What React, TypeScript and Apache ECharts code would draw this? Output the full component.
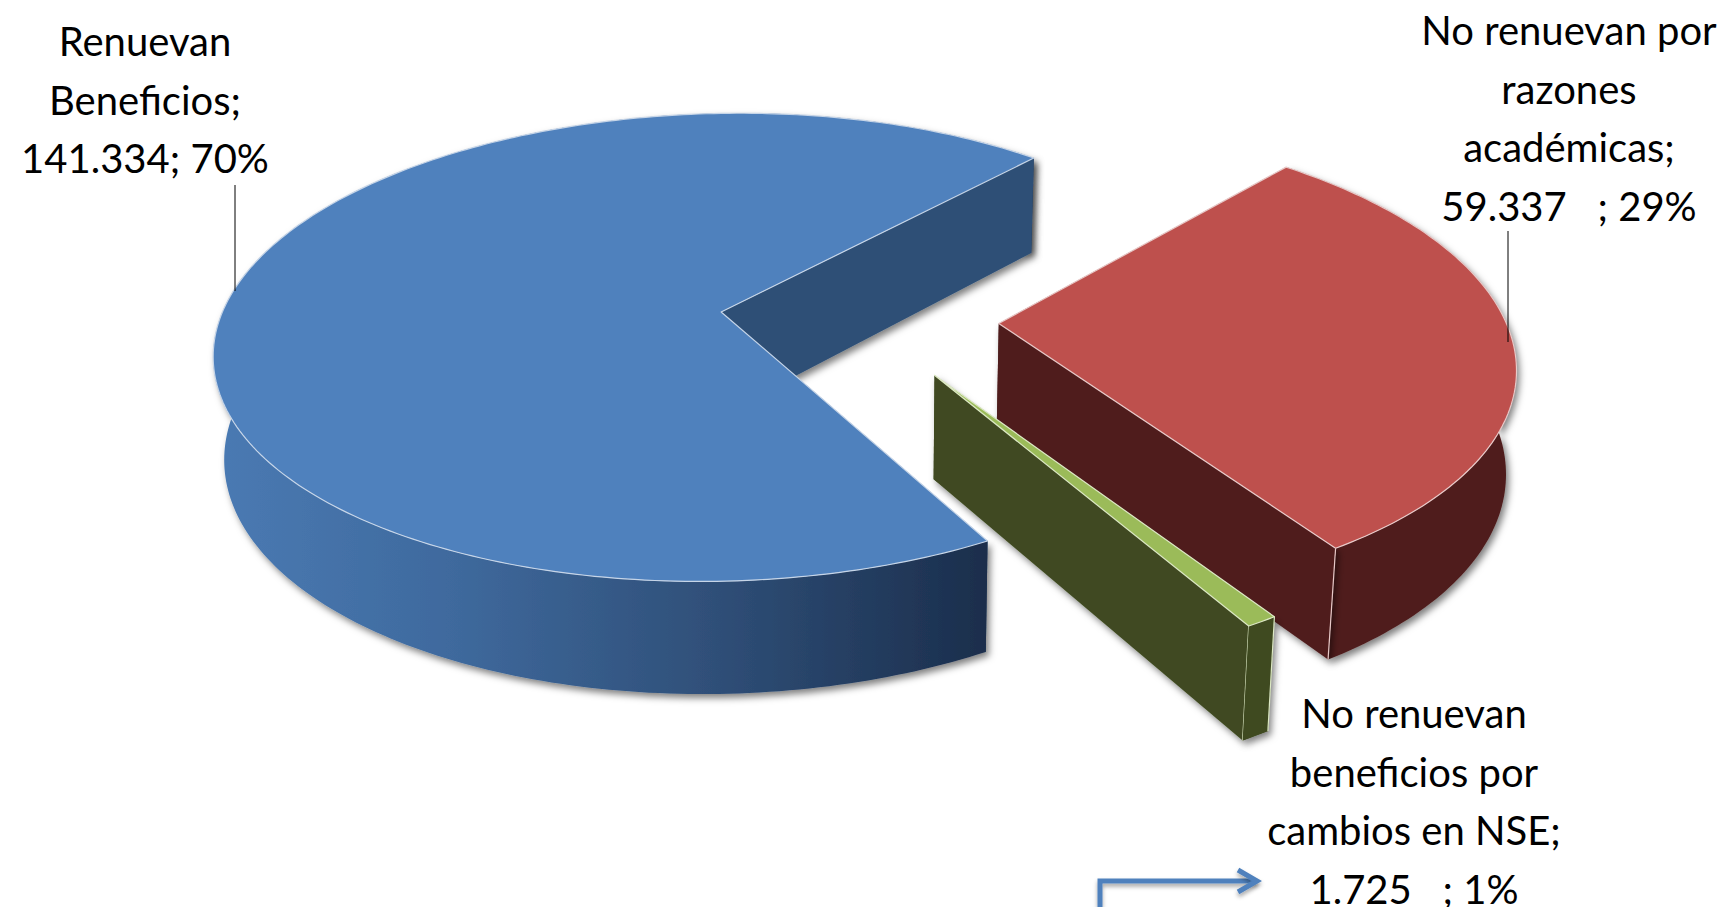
import React, { useEffect, useRef } from "react";
import * as echarts from "echarts";

const categories = ["Renuevan Beneficios", "No renuevan por razones académicas", "No renuevan beneficios por cambios en NSE"];
const values = [141334, 59337, 1725];
const labelTexts = [
  "Renuevan\nBeneficios;\n141.334; 70%",
  "No renuevan por\nrazones\nacadémicas;\n59.337   ; 29%",
  "No renuevan\nbeneficios por\ncambios en NSE;\n1.725   ; 1%",
];
const topColors = ["#4F81BD", "#BE504D", "#9BBB59"];
const wallColors = ["#2F5076", "#4F1F1E", "#3F4A20"];
const edgeColors = ["#C6D5E8", "#E8C9C8", "#DCE8C4"];

// Layout of the exploded perspective pie
const START_ANGLE = 151.5;
const EXPLODE = 0.277;
const CENTER_UV = [0.275, 0.03];
const CX = 721, CY = 313, A = 501, B = 229, K = 0.1514, SHEAR_X = -9, SHEAR_Y = -5;
const LABEL_POS = [[145, 12], [1569, 1], [1414, 684]];

const total = values.reduce((s, v) => s + v, 0);
const rad = (d: number) => (d * Math.PI) / 180;
const project = (u: number, v: number) => {
  const den = 1 - K * v;
  return [CX + (A * u + SHEAR_X * v) / den, CY + (B * v + SHEAR_Y * u) / den];
};
const drop = (p: number[]) => {
  const h = 95 + 0.0418 * (p[1] - 159);
  return [p[0] + 0.0165 * (880 - p[0]), p[1] + h];
};

const sliceAngles = values.map((_, i) => {
  const before = values.slice(0, i).reduce((s, v) => s + v, 0);
  const s = START_ANGLE + (before / total) * 360;
  return [s, s + (values[i] / total) * 360];
});

const shadow = { shadowBlur: 7, shadowColor: "rgba(0,0,0,0.5)", shadowOffsetX: 3, shadowOffsetY: 4 };

function renderSlice(params: any, api: any) {
  const i = params.dataIndex;
  const sweep = (api.value(0) / total) * 360;
  const start = sliceAngles[i][0];
  const end = start + sweep;
  const mid = rad((start + end) / 2);
  const ou = CENTER_UV[0] + EXPLODE * Math.sin(mid);
  const ov = CENTER_UV[1] - EXPLODE * Math.cos(mid);
  const apex = project(ou, ov);
  const arc: number[][] = [];
  const steps = Math.max(2, Math.ceil(sweep));
  for (let s = 0; s <= steps; s++) {
    const t = rad(start + (sweep * s) / steps);
    arc.push(project(ou + Math.sin(t), ov - Math.cos(t)));
  }
  const corner = arc[arc.length - 1];
  const rimFill: any =
    i === 0
      ? {
          type: "linear", x: 214, y: 0, x2: 985, y2: 0, global: true,
          colorStops: [
            { offset: 0, color: "#4A7AB3" },
            { offset: 0.3, color: "#3F6A9E" },
            { offset: 0.65, color: "#2F4F78" },
            { offset: 1, color: "#1B2E4C" },
          ],
        }
      : wallColors[i];
  const children: any[] = [
    {
      type: "polygon", silent: true,
      shape: { points: [apex, arc[0], drop(arc[0]), drop(apex)] },
      style: { fill: wallColors[i] },
    },
    {
      type: "polygon", silent: true,
      shape: { points: [...arc, ...arc.map(drop).reverse()] },
      style: { fill: rimFill, ...shadow },
    },
    {
      type: "polygon", silent: true,
      shape: { points: [apex, corner, drop(corner), drop(apex)] },
      style: { fill: wallColors[i], ...shadow },
    },
  ];
  if (i > 0) {
    const c0 = i === 2 ? arc[0] : corner;
    children.push({
      type: "line", silent: true,
      shape: { x1: corner[0], y1: corner[1], x2: drop(corner)[0], y2: drop(corner)[1] },
      style: { stroke: edgeColors[i], lineWidth: 1.2 },
    });
    if (i === 2) {
      children.push({
        type: "polygon", silent: true,
        shape: { points: [c0, corner, drop(corner), drop(c0)] },
        style: { fill: wallColors[i] },
      });
      children.push({
        type: "line", silent: true,
        shape: { x1: c0[0], y1: c0[1], x2: drop(c0)[0], y2: drop(c0)[1] },
        style: { stroke: edgeColors[i], lineWidth: 1.2 },
      });
    }
  }
  children.push({
    type: "polygon", silent: true,
    shape: { points: [apex, ...arc] },
    style: { fill: topColors[i], stroke: edgeColors[i], lineWidth: 1.2, lineJoin: "round" },
  });
  return { type: "group", children };
}

export default function App() {
  const ref = useRef<HTMLDivElement>(null);
  useEffect(() => {
    document.body.style.margin = "0";
    document.body.style.overflow = "hidden";
    const chart = echarts.init(ref.current!, null, { renderer: "svg" });
    chart.setOption({
      animation: false,
      backgroundColor: "#FFFFFF",
      series: [
        {
          type: "custom",
          coordinateSystem: "none",
          renderItem: renderSlice,
          data: values.map((v, i) => ({ name: categories[i], value: [v] })),
          silent: true,
        },
      ],
      graphic: [
        ...labelTexts.map((t, i) => ({
          type: "text",
          silent: true,
          z: 10,
          style: {
            text: t,
            x: LABEL_POS[i][0],
            y: LABEL_POS[i][1],
            align: "center",
            verticalAlign: "top",
            fontFamily: "Lato",
            fontSize: 40,
            lineHeight: 58.5,
            fill: "#000000",
          },
        })),
        { type: "line", silent: true, z: 10, shape: { x1: 235, y1: 185, x2: 235, y2: 291 }, style: { stroke: "#000", lineWidth: 1 } },
        { type: "line", silent: true, z: 10, shape: { x1: 1508, y1: 231, x2: 1508, y2: 342 }, style: { stroke: "#000", lineWidth: 1 } },
        {
          type: "polyline", silent: true, z: 10,
          shape: { points: [[1100, 907], [1100, 881], [1257, 881]] },
          style: { stroke: "#4F81BD", lineWidth: 5, fill: "none", shadowBlur: 4, shadowColor: "rgba(0,0,0,0.35)", shadowOffsetY: 3 },
        },
        {
          type: "polyline", silent: true, z: 10,
          shape: { points: [[1238, 870], [1257, 881], [1238, 892]] },
          style: { stroke: "#4F81BD", lineWidth: 5, fill: "none", shadowBlur: 4, shadowColor: "rgba(0,0,0,0.35)", shadowOffsetY: 3 },
        },
      ],
    });
    return () => chart.dispose();
  }, []);
  return <div ref={ref} style={{ width: 1735, height: 907 }} />;
}
